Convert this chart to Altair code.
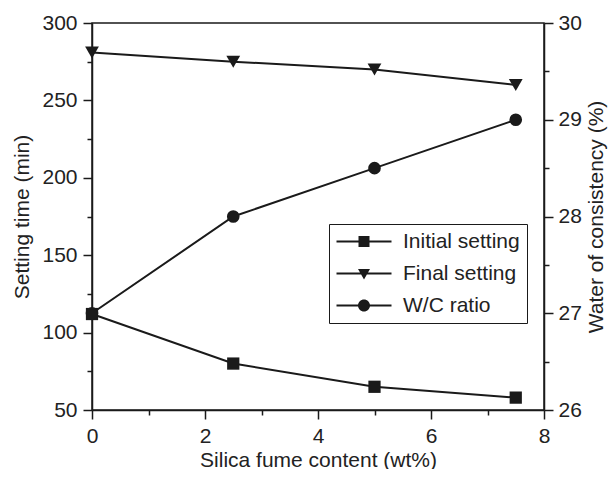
import altair as alt
import pandas as pd

# ---- data ----
x_vals = [0, 2.5, 5, 7.5]
initial_setting = [112, 80, 65, 58]
final_setting = [281, 275, 270, 260]
wc_ratio = [27.0, 28.0, 28.5, 29.0]
series_names = ["Initial setting", "Final setting", "W/C ratio"]

x_ticks = [0, 1, 2, 3, 4, 5, 6, 7, 8]
left_ticks = [50, 75, 100, 125, 150, 175, 200, 225, 250, 275, 300]
right_ticks = [26, 26.5, 27, 27.5, 28, 28.5, 29, 29.5, 30]

# ---- tables ----
df_init = pd.DataFrame({"x": x_vals, "v": initial_setting})
df_final = pd.DataFrame({"x": x_vals, "v": final_setting})
df_wc = pd.DataFrame({"x": x_vals, "v": wc_ratio})
df_legend = pd.DataFrame({"series": series_names})

INK = "#1a1a1a"
FONT = "Liberation Sans"
FS = 21

# legend glyphs: a short line with the marker in its middle
# (symbol size 400 -> 1 unit = 10 px; nominal centre sits 10 px from the entry's left edge)
LINE = "M-1,-0.1H4.5V0.1H-1Z"
legend_paths = [
    LINE + "M1.2,-0.55H2.3V0.55H1.2Z",
    LINE + "M1.15,-0.45H2.35L1.75,0.6Z",
    LINE + "M1.15,0A0.6,0.6 0 1,1 2.35,0A0.6,0.6 0 1,1 1.15,0Z",
]

x_enc = alt.X(
    "x:Q",
    scale=alt.Scale(domain=[0, 8], nice=False, zero=False),
    axis=alt.Axis(
        values=x_ticks,
        labelExpr="datum.value % 2 === 0 ? datum.label : ''",
        tickSize={"condition": {"test": "datum.value % 2 !== 0", "value": 5}, "value": 9},
        title="Silica fume content (wt%)",
        labelFlush=False,
        labelOverlap=False,
        labelPadding=6,
        titlePadding=3,
        grid=False,
    ),
)

y_left = alt.Y(
    "v:Q",
    scale=alt.Scale(domain=[50, 300], nice=False, zero=False),
    axis=alt.Axis(
        orient="left",
        values=left_ticks,
        labelExpr="datum.value % 50 === 0 ? datum.label : ''",
        tickSize={"condition": {"test": "datum.value % 50 !== 0", "value": 5}, "value": 9},
        title="Setting time (min)",
        labelFlush=False,
        labelOverlap=False,
        labelPadding=6,
        titlePadding=9,
        grid=False,
    ),
)

y_right = alt.Y(
    "v:Q",
    scale=alt.Scale(domain=[26, 30], nice=False, zero=False),
    axis=alt.Axis(
        orient="right",
        values=right_ticks,
        labelExpr="datum.value % 1 === 0 ? format(datum.value, 'd') : ''",
        tickSize={"condition": {"test": "datum.value % 1 !== 0", "value": 5}, "value": 9},
        title="Water of consistency (%)",
        titleAngle=270,
        titleBaseline="top",
        labelFlush=False,
        labelOverlap=False,
        labelPadding=5,
        titlePadding=4,
        grid=False,
    ),
)

line_kw = dict(color=INK, strokeWidth=2)

init_line = alt.Chart(df_init).mark_line(**line_kw).encode(x=x_enc, y=y_left)
init_pts = alt.Chart(df_init).mark_point(shape="square", filled=True, size=150, color=INK, opacity=1).encode(x=x_enc, y=y_left)
final_line = alt.Chart(df_final).mark_line(**line_kw).encode(x=x_enc, y=y_left)
final_pts = alt.Chart(df_final).mark_point(shape="triangle-down", filled=True, size=190, color=INK, opacity=1).encode(x=x_enc, y=y_left)

legend_layer = alt.Chart(df_legend).mark_point(filled=True, opacity=0, color=INK).encode(
    shape=alt.Shape(
        "series:N",
        scale=alt.Scale(domain=series_names, range=legend_paths),
        legend=alt.Legend(
            title=None,
            orient="none",
            legendX=237,
            legendY=201,
            symbolSize=400,
            symbolFillColor=INK,
            symbolStrokeWidth=0,
            symbolOpacity=1,
            labelFont=FONT,
            labelFontSize=FS,
            labelColor="#222",
            labelOffset=46,
            rowPadding=10,
            padding=7,
            strokeColor=INK,
            fillColor="white",
        ),
    )
)

wc_line = alt.Chart(df_wc).mark_line(**line_kw).encode(x=x_enc, y=y_right)
wc_pts = alt.Chart(df_wc).mark_point(shape="circle", filled=True, size=160, color=INK, opacity=1).encode(x=x_enc, y=y_right)

left = alt.layer(init_line, final_line, init_pts, final_pts, legend_layer)
right = alt.layer(wc_line, wc_pts)

chart = (
    alt.layer(left, right)
    .resolve_scale(y="independent")
    .properties(
        width=452,
        height=387,
        autosize=alt.AutoSizeParams(type="none"),
        padding={"left": 84, "top": 15, "right": 64, "bottom": 59},
    )
    .configure_view(stroke=INK, strokeWidth=1.5)
    .configure_axis(
        domainColor=INK,
        domainWidth=1.5,
        tickColor=INK,
        tickWidth=1.5,
        labelFont=FONT,
        labelFontSize=FS,
        labelColor="#222",
        titleFont=FONT,
        titleFontSize=FS,
        titleFontWeight="normal",
        titleColor="#222",
    )
)

chart.save("out.html", embed_options={"renderer": "svg", "actions": False})
